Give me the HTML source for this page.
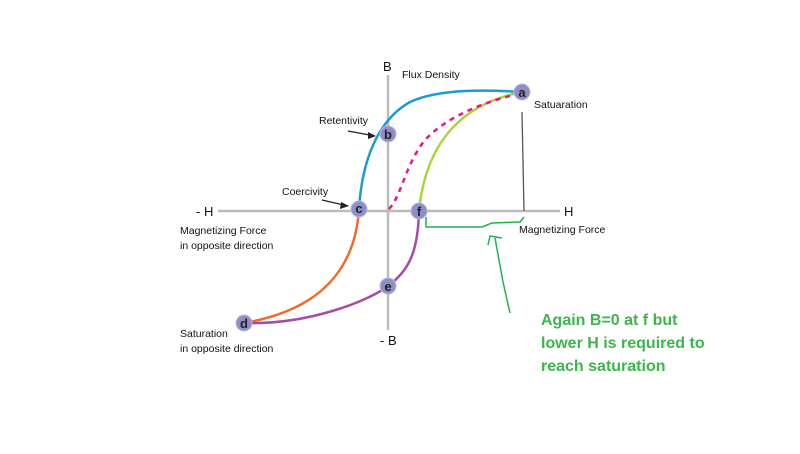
<!DOCTYPE html>
<html><head><style>
body{margin:0;background:#fff;width:800px;height:449px;overflow:hidden}
svg text{font-family:"Liberation Sans",sans-serif;}
</style></head><body>
<svg width="800" height="449" viewBox="0 0 800 449">
<line x1="218" y1="211" x2="560" y2="211" stroke="#bbb" stroke-width="2.5"/>
<line x1="388" y1="75" x2="388" y2="330" stroke="#bbb" stroke-width="2.5"/>
<line x1="522" y1="112" x2="524" y2="211" stroke="#555" stroke-width="1.3"/>
<path d="M359 209 C362 160,378 120,410 102 C440 88,490 90,522 92" fill="none" stroke="#1a9ad6" stroke-width="2.5"/>
<path d="M419 211 C425 150,455 105,522 92" fill="none" stroke="#a8d43a" stroke-width="2.5"/>
<path d="M389 209 C402 195,405 165,425 140 C448 115,490 100,522 93" fill="none" stroke="#e8168c" stroke-width="2.5" stroke-dasharray="5,5"/>
<path d="M359 209 C355 270,320 310,244 323" fill="none" stroke="#f26a2e" stroke-width="2.5"/>
<path d="M244 323 C310 325,370 300,388 286 C410 270,418 250,419 211" fill="none" stroke="#a64ca6" stroke-width="2.5"/>
<path d="M426 217 L426 227 L482 227 L492 223 L520 222 L524 217" fill="none" stroke="#22b14c" stroke-width="1.5"/>
<path d="M510 313 L503 282 L495 238 M488 245 L490 236 L502 238" fill="none" stroke="#22b14c" stroke-width="1.5"/>
<g fill="#8f8fc8" stroke="#b8b8e0" stroke-width="1">
<circle cx="522" cy="92" r="8"/><circle cx="388" cy="134" r="8"/><circle cx="359" cy="209" r="8"/>
<circle cx="419" cy="211" r="8"/><circle cx="388" cy="286" r="8"/><circle cx="244" cy="323" r="8"/></g>
<g font-size="13" font-weight="bold" fill="#222" text-anchor="middle">
<text x="522" y="97">a</text><text x="388" y="139">b</text><text x="359" y="213">c</text>
<text x="419" y="216">f</text><text x="388" y="291">e</text><text x="244" y="328">d</text></g>
<g font-size="10.5" fill="#111">
<text x="383" y="71" font-size="13">B</text>
<text x="402" y="78">Flux Density</text>
<text x="534" y="108">Satuaration</text>
<text x="319" y="124">Retentivity</text>
<text x="282" y="195">Coercivity</text>
<text x="196" y="216" font-size="13">- H</text>
<text x="564" y="216" font-size="13">H</text>
<text x="180" y="234">Magnetizing Force</text>
<text x="180" y="249">in opposite direction</text>
<text x="519" y="233">Magnetizing Force</text>
<text x="180" y="337">Saturation</text>
<text x="180" y="352">in opposite direction</text>
<text x="380" y="345" font-size="13">- B</text>
</g>
<path d="M348 131 L375 136" stroke="#222" stroke-width="1.3"/><path d="M376 136 L368 132 L368 139Z" fill="#222"/>
<path d="M322 200 L348 206" stroke="#222" stroke-width="1.3"/><path d="M349 206 L341 202 L340 209Z" fill="#222"/>
<g font-size="16" font-weight="bold" fill="#3cb54a">
<text x="541" y="325">Again B=0 at f but</text>
<text x="541" y="348">lower H is required to</text>
<text x="541" y="371">reach saturation</text></g>
</svg>
</body></html>
